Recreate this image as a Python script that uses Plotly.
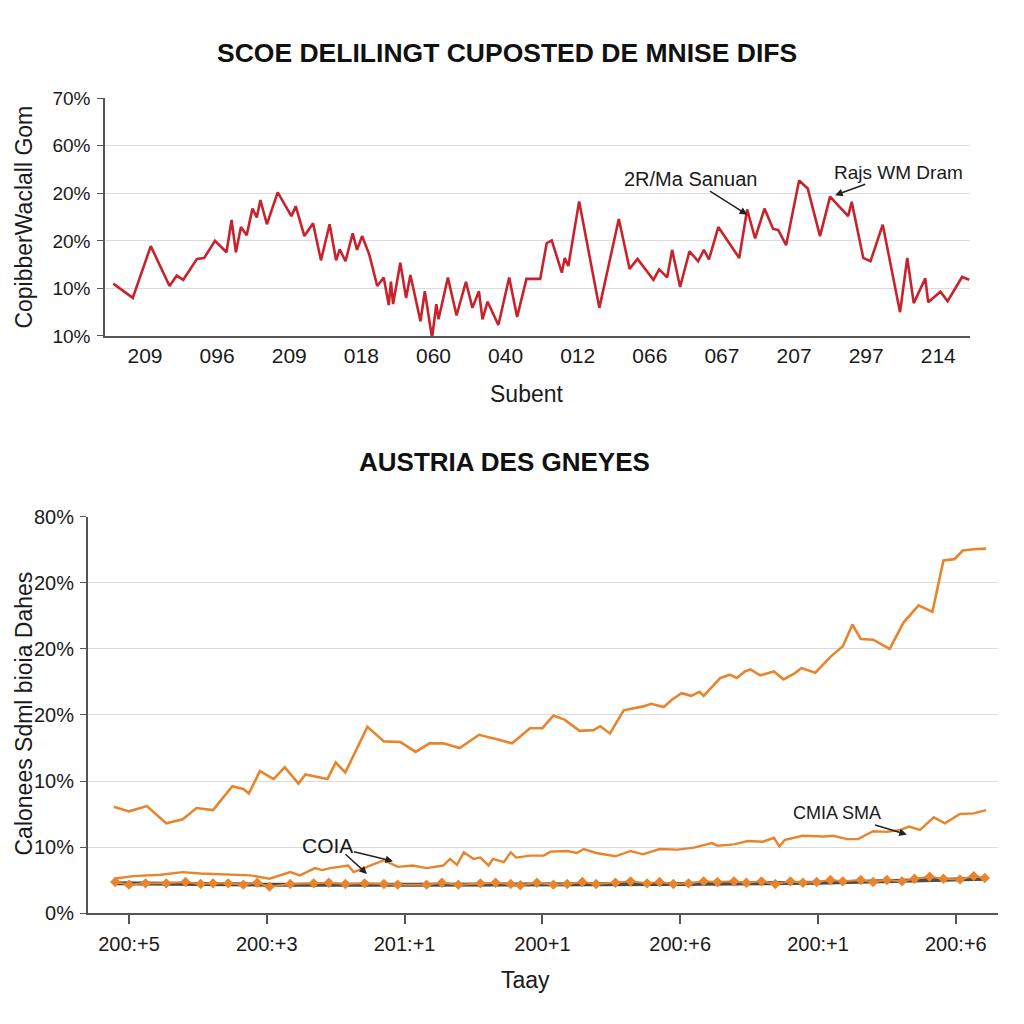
import plotly.graph_objects as go

# ---------------- data: top chart ----------------
top_tick_vals = list(range(12))
top_tick_text = ["209", "096", "209", "018", "060", "040", "012", "066", "067", "207", "297", "214"]
top_y_tickvals = [0, 1, 2, 3, 4, 5]
top_y_ticktext = ["10%", "10%", "20%", "20%", "60%", "70%"]

red_x = [-0.44, -0.17, 0.08, 0.34, 0.44, 0.53, 0.72, 0.82, 0.97, 1.13,
         1.20, 1.26, 1.33, 1.41, 1.49, 1.55, 1.60, 1.69, 1.84, 1.97,
         2.03, 2.09, 2.21, 2.33, 2.44, 2.56, 2.65, 2.70, 2.78, 2.88,
         2.94, 3.01, 3.11, 3.22, 3.31, 3.38, 3.41, 3.44, 3.54, 3.62,
         3.68, 3.82, 3.88, 3.98, 4.04, 4.07, 4.20, 4.32, 4.45, 4.54,
         4.63, 4.68, 4.75, 4.90, 5.05, 5.16, 5.29, 5.48, 5.57, 5.64,
         5.78, 5.82, 5.87, 6.02, 6.30, 6.57, 6.72, 6.83, 6.91, 7.05,
         7.13, 7.24, 7.31, 7.42, 7.55, 7.67, 7.75, 7.82, 7.95, 8.24,
         8.35, 8.46, 8.59, 8.71, 8.78, 8.89, 9.07, 9.19, 9.36, 9.50,
         9.75, 9.80, 9.96, 10.06, 10.23, 10.47, 10.57, 10.66, 10.82, 10.86,
         11.03, 11.13, 11.33, 11.43]
red_y = [1.10, 0.80, 1.89, 1.05, 1.27, 1.18, 1.62, 1.64, 2.00, 1.76,
         2.44, 1.76, 2.29, 2.12, 2.68, 2.49, 2.86, 2.35, 3.02, 2.69,
         2.52, 2.73, 2.10, 2.37, 1.59, 2.35, 1.59, 1.82, 1.57, 2.16,
         1.81, 2.10, 1.71, 1.05, 1.23, 0.65, 1.14, 0.67, 1.54, 0.80,
         1.28, 0.31, 0.94, -0.04, 0.67, 0.35, 1.23, 0.43, 1.14, 0.59,
         0.94, 0.35, 0.72, 0.23, 1.23, 0.40, 1.20, 1.20, 1.95, 2.01,
         1.33, 1.64, 1.47, 2.83, 0.59, 2.46, 1.41, 1.62, 1.46, 1.18,
         1.40, 1.23, 1.81, 1.03, 1.78, 1.57, 1.81, 1.61, 2.29, 1.64,
         2.66, 2.05, 2.68, 2.25, 2.23, 1.91, 3.27, 3.10, 2.10, 2.93,
         2.52, 2.82, 1.64, 1.57, 2.34, 0.50, 1.64, 0.69, 1.21, 0.71,
         0.93, 0.73, 1.24, 1.18]

# ---------------- data: bottom chart ----------------
bot_tick_vals = list(range(7))
bot_tick_text = ["200:+5", "200:+3", "201:+1", "200+1", "200:+6", "200:+1", "200:+6"]
bot_y_tickvals = [0, 1, 2, 3, 4, 5, 6]
bot_y_ticktext = ["0%", "10%", "10%", "20%", "20%", "20%", "80%"]

up_x = [-0.11, 0.00, 0.13, 0.27, 0.39, 0.49, 0.61, 0.75, 0.83, 0.87,
        0.95, 1.05, 1.13, 1.23, 1.28, 1.44, 1.50, 1.57, 1.73, 1.85,
        1.97, 2.08, 2.18, 2.28, 2.40, 2.54, 2.69, 2.78, 2.91, 3.00,
        3.08, 3.16, 3.27, 3.37, 3.42, 3.49, 3.59, 3.73, 3.79, 3.88,
        3.94, 4.01, 4.08, 4.14, 4.17, 4.29, 4.36, 4.41, 4.47, 4.51,
        4.58, 4.68, 4.75, 4.83, 4.88, 4.98, 5.09, 5.18, 5.25, 5.31,
        5.40, 5.52, 5.62, 5.73, 5.83, 5.91, 5.99, 6.05, 6.13, 6.22]
up_y = [1.61, 1.54, 1.62, 1.36, 1.42, 1.59, 1.56, 1.92, 1.88, 1.81,
        2.15, 2.03, 2.21, 1.96, 2.10, 2.03, 2.28, 2.13, 2.82, 2.60,
        2.59, 2.44, 2.57, 2.57, 2.50, 2.70, 2.62, 2.57, 2.80, 2.80,
        2.99, 2.93, 2.76, 2.77, 2.83, 2.72, 3.07, 3.13, 3.17, 3.12,
        3.23, 3.33, 3.29, 3.35, 3.29, 3.56, 3.61, 3.56, 3.66, 3.69,
        3.60, 3.66, 3.54, 3.63, 3.71, 3.64, 3.88, 4.04, 4.37, 4.15,
        4.14, 4.00, 4.40, 4.66, 4.56, 5.34, 5.36, 5.49, 5.51, 5.52]

mid_x = [-0.11, 0.03, 0.23, 0.39, 0.52, 0.71, 0.88, 1.02, 1.17, 1.24,
         1.35, 1.40, 1.46, 1.59, 1.63, 1.69, 1.85, 1.95, 2.06, 2.16,
         2.28, 2.33, 2.38, 2.43, 2.50, 2.55, 2.61, 2.64, 2.72, 2.77,
         2.81, 2.91, 3.01, 3.06, 3.18, 3.25, 3.30, 3.39, 3.53, 3.64,
         3.73, 3.85, 3.98, 4.10, 4.23, 4.27, 4.39, 4.49, 4.60, 4.68,
         4.72, 4.76, 4.89, 5.04, 5.11, 5.21, 5.29, 5.40, 5.50, 5.60,
         5.66, 5.74, 5.84, 5.92, 6.03, 6.13, 6.22]
mid_y = [0.52, 0.56, 0.58, 0.62, 0.60, 0.58, 0.57, 0.52, 0.62, 0.57,
         0.68, 0.65, 0.68, 0.72, 0.62, 0.67, 0.80, 0.70, 0.72, 0.68,
         0.72, 0.82, 0.73, 0.92, 0.82, 0.84, 0.72, 0.82, 0.77, 0.92,
         0.84, 0.87, 0.87, 0.93, 0.94, 0.91, 0.97, 0.91, 0.86, 0.94,
         0.89, 0.97, 0.96, 0.99, 1.06, 1.02, 1.04, 1.09, 1.08, 1.14,
         1.01, 1.11, 1.17, 1.16, 1.17, 1.12, 1.12, 1.24, 1.23, 1.26,
         1.31, 1.26, 1.45, 1.36, 1.50, 1.51, 1.56]

dia_x = [-0.10, 0.00, 0.12, 0.27, 0.41, 0.52, 0.61, 0.72, 0.83, 0.93,
         1.02, 1.17, 1.34, 1.45, 1.57, 1.71, 1.85, 1.95, 2.16, 2.27,
         2.39, 2.55, 2.66, 2.77, 2.84, 2.96, 3.08, 3.18, 3.29, 3.39,
         3.53, 3.64, 3.76, 3.85, 3.95, 4.06, 4.17, 4.27, 4.39, 4.48,
         4.59, 4.69, 4.80, 4.89, 4.99, 5.09, 5.18, 5.31, 5.40, 5.50,
         5.61, 5.70, 5.81, 5.91, 6.03, 6.13, 6.21]
dia_y = [0.47, 0.43, 0.45, 0.45, 0.47, 0.44, 0.45, 0.45, 0.43, 0.46,
         0.40, 0.44, 0.45, 0.46, 0.44, 0.45, 0.44, 0.43, 0.43, 0.46,
         0.43, 0.45, 0.46, 0.44, 0.42, 0.46, 0.43, 0.44, 0.47, 0.44,
         0.46, 0.48, 0.45, 0.47, 0.44, 0.45, 0.48, 0.47, 0.48, 0.46,
         0.48, 0.44, 0.48, 0.46, 0.47, 0.50, 0.48, 0.50, 0.47, 0.50,
         0.48, 0.52, 0.55, 0.52, 0.51, 0.56, 0.53]

gray_x = [-0.11, 1.0, 2.0, 3.0, 4.0, 5.0, 5.6, 6.22]
gray_y = [0.45, 0.43, 0.43, 0.43, 0.44, 0.46, 0.49, 0.52]

# ---------------- styles ----------------
RED = "#c8232c"
ORANGE = "#e8842c"
GRAY = "#4d4d4d"
GRID = "#dcdcdc"
AXIS = "#555555"
TXT = "#1a1a1a"
SANS = "Liberation Sans, Arial, sans-serif"

fig = go.Figure()

fig.add_trace(go.Scatter(x=red_x, y=red_y, mode="lines", xaxis="x", yaxis="y",
                         line=dict(color=RED, width=2.6), showlegend=False))

fig.add_trace(go.Scatter(x=gray_x, y=gray_y, mode="lines", xaxis="x2", yaxis="y2",
                         line=dict(color=GRAY, width=4), showlegend=False))
fig.add_trace(go.Scatter(x=dia_x, y=dia_y, mode="lines+markers", xaxis="x2", yaxis="y2",
                         line=dict(color=ORANGE, width=2),
                         marker=dict(symbol="diamond", size=8, color=ORANGE),
                         showlegend=False))
fig.add_trace(go.Scatter(x=mid_x, y=mid_y, mode="lines", xaxis="x2", yaxis="y2",
                         line=dict(color=ORANGE, width=2.4), showlegend=False))
fig.add_trace(go.Scatter(x=up_x, y=up_y, mode="lines", xaxis="x2", yaxis="y2",
                         line=dict(color=ORANGE, width=2.6), showlegend=False))

# figure is 1008 px so that it fits in the window with the page's 8 px margin
OFF = 8.0
S = 1008.0

def py(p):
    return 1 - (p - OFF) / S

def px(p):
    return (p - OFF) / S

fig.update_layout(
    width=1008, height=1008,
    margin=dict(l=0, r=0, t=0, b=0),
    paper_bgcolor="white", plot_bgcolor="white",
    xaxis=dict(domain=[px(105), px(970)], range=[-0.555, 11.44],
               tickmode="array", tickvals=top_tick_vals, ticktext=top_tick_text,
               showgrid=False, zeroline=False, showline=True, linecolor=AXIS, linewidth=2,
               ticks="", ticklabelstandoff=0,
               tickfont=dict(family=SANS, size=21, color=TXT), anchor="y"),
    yaxis=dict(domain=[py(332), py(89)], range=[0, 5],
               tickmode="array", tickvals=top_y_tickvals, ticktext=top_y_ticktext,
               showgrid=True, gridcolor=GRID, gridwidth=1.2, zeroline=False,
               showline=True, linecolor=AXIS, linewidth=1.5,
               ticks="outside", ticklen=6, tickcolor=AXIS, ticklabelstandoff=3,
               tickfont=dict(family=SANS, size=19, color=TXT), anchor="x"),
    xaxis2=dict(domain=[px(88), px(998)], range=[-0.2975, 6.306],
                tickmode="array", tickvals=bot_tick_vals, ticktext=bot_tick_text,
                showgrid=False, zeroline=False, showline=True, linecolor=AXIS, linewidth=2,
                ticks="outside", ticklen=9, tickwidth=2, tickcolor=AXIS, ticklabelstandoff=3,
                tickfont=dict(family=SANS, size=20, color=TXT), anchor="y2"),
    yaxis2=dict(domain=[py(922), py(517)], range=[0, 6],
                tickmode="array", tickvals=bot_y_tickvals, ticktext=bot_y_ticktext,
                showgrid=True, gridcolor=GRID, gridwidth=1.2, zeroline=False,
                showline=True, linecolor=AXIS, linewidth=2,
                ticks="outside", ticklen=6, tickcolor=AXIS, ticklabelstandoff=2,
                tickfont=dict(family=SANS, size=20, color=TXT), anchor="x2"),
)

ann = []
# titles
ann.append(dict(text="<b>SCOE DELILINGT CUPOSTED DE MNISE DIFS</b>", x=px(507), y=py(43),
                xref="paper", yref="paper", showarrow=False, xanchor="center", yanchor="middle",
                font=dict(family=SANS, size=26.5, color="#111111")))
ann.append(dict(text="<b>AUSTRIA DES GNEYES</b>", x=px(504), y=py(461),
                xref="paper", yref="paper", showarrow=False, xanchor="center", yanchor="middle",
                font=dict(family=SANS, size=26, color="#111111")))
# axis titles
ann.append(dict(text="Subent", x=px(527), y=py(391), xref="paper", yref="paper",
                showarrow=False, xanchor="center", yanchor="middle",
                font=dict(family=SANS, size=23, color=TXT)))
ann.append(dict(text="Taay", x=px(525), y=py(990), xref="paper", yref="paper",
                showarrow=False, xanchor="center", yanchor="middle",
                font=dict(family=SANS, size=23, color=TXT)))
ann.append(dict(text="CopibberWaclall Gom", x=px(24), y=py(211), xref="paper", yref="paper",
                showarrow=False, xanchor="center", yanchor="middle", textangle=-90,
                font=dict(family=SANS, size=23, color=TXT)))
ann.append(dict(text="Calonees Sdml bioia Dahes", x=px(24), y=py(718), xref="paper", yref="paper",
                showarrow=False, xanchor="center", yanchor="middle", textangle=-90,
                font=dict(family=SANS, size=23, color=TXT)))
# callouts top
ann.append(dict(text="2R/Ma Sanuan", x=8.35, y=2.55, xref="x", yref="y",
                ax=-57, ay=-36, showarrow=True, arrowhead=2, arrowsize=1, arrowwidth=1.5,
                arrowcolor="#222222", font=dict(family=SANS, size=20, color=TXT)))
ann.append(dict(text="Rajs WM Dram", x=9.57, y=2.96, xref="x", yref="y",
                ax=63, ay=-23, showarrow=True, arrowhead=2, arrowsize=1, arrowwidth=1.5,
                arrowcolor="#222222", font=dict(family=SANS, size=19, color=TXT)))
# callouts bottom
ann.append(dict(text="COIA", x=1.916, y=0.785, xref="x2", yref="y2",
                ax=-66, ay=-16, showarrow=True, arrowhead=2, arrowsize=1, arrowwidth=1.5,
                arrowcolor="#222222", font=dict(family=SANS, size=21, color=TXT)))
ann.append(dict(text=" ", x=1.727, y=0.593, xref="x2", yref="y2",
                ax=-24, ay=-22, showarrow=True, arrowhead=2, arrowsize=1, arrowwidth=1.5,
                arrowcolor="#222222", font=dict(family=SANS, size=8, color=TXT)))
ann.append(dict(text="CMIA SMA", x=5.644, y=1.19, xref="x2", yref="y2",
                ax=-70, ay=-21, showarrow=True, arrowhead=2, arrowsize=1, arrowwidth=1.5,
                arrowcolor="#222222", font=dict(family=SANS, size=18, color=TXT)))

fig.update_layout(annotations=ann)

fig.write_html("out.html")
